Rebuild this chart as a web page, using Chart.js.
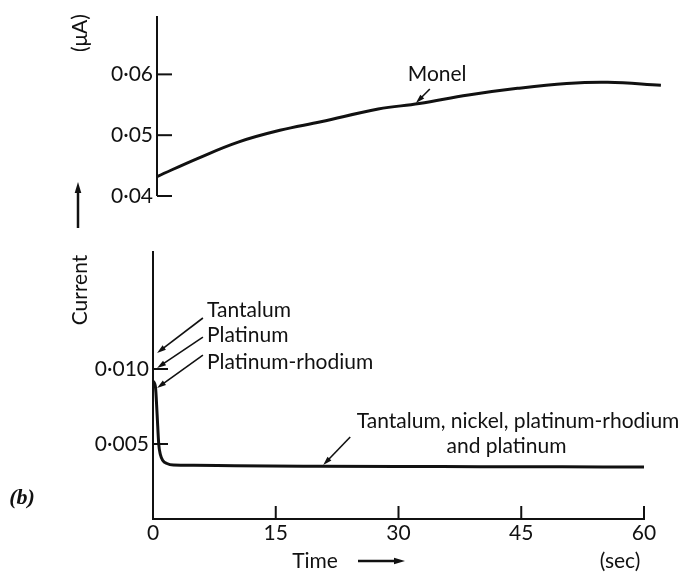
<!DOCTYPE html>
<html>
<head>
<meta charset="utf-8">
<script src="https://cdn.jsdelivr.net/npm/chart.js@4.4.1/dist/chart.umd.min.js"></script>
<style>
  body { margin: 0; background: #fff; }
  #wrap { position: relative; width: 696px; height: 576px; }
  #wrap canvas { position: absolute; left: 0; top: 0; }
</style>
</head>
<body>
<div id="wrap">
  <canvas id="monel" width="696" height="576"></canvas>
  <canvas id="others" width="696" height="576"></canvas>
</div>
<script>
// Upper panel: Monel, current (uA) against time (sec)
const monelTime = [0, 5, 10, 15, 20, 27, 32, 38, 44, 50, 55, 61.5];
const monelCurrent = [0.0432, 0.0462, 0.0489, 0.0508, 0.0522, 0.0543, 0.0552, 0.0566, 0.0577, 0.0585, 0.0587, 0.0582];
const monelTicks = [0.04, 0.05, 0.06];

// Lower panel: tantalum, nickel, platinum-rhodium and platinum
const otherTime = [0, 0.3, 0.5, 0.7, 0.9, 1.2, 1.7, 2.5, 5, 10, 20, 30, 40, 50, 60];
const otherCurrent = [0.0092, 0.0088, 0.0070, 0.0050, 0.0043, 0.0039, 0.0037, 0.0036, 0.00358, 0.00355, 0.00352, 0.0035, 0.00349, 0.00348, 0.00347];
const otherTicks = [0.005, 0.010];
const timeTicks = [0, 15, 30, 45, 60];

// labels and pointer arrows, in data units (sec, uA)
const monelNotes = [{ text: 'Monel', x: 30.6, y: 0.0600 }];
const monelArrows = [[33.3, 0.0576, 31.6, 0.0553]];
const otherNotes = [
  { text: 'Tantalum', x: 6.6, y: 0.01393 },
  { text: 'Platinum', x: 6.6, y: 0.01227 },
  { text: 'Platinum-rhodium', x: 6.6, y: 0.01047 },
  { text: 'Tantalum, nickel, platinum-rhodium', x: 24.9, y: 0.00653 },
  { text: 'and platinum', x: 43.2, y: 0.00487, align: 'center' }
];
const otherArrows = [
  [6.1, 0.0134, 0.5, 0.01107],
  [6.1, 0.01213, 0.5, 0.01007],
  [6.1, 0.01093, 0.5, 0.00873],
  [24.1, 0.00547, 20.8, 0.0036]
];

const ink = '#111';
const family = 'Lato, "Open Sans", sans-serif';
const font = '21px ' + family;
const dot = (v, n) => v.toFixed(n).replace('.', '\u00b7');

function line(ctx, x1, y1, x2, y2) {
  ctx.beginPath(); ctx.moveTo(x1, y1); ctx.lineTo(x2, y2); ctx.stroke();
}

function arrow(ctx, x1, y1, x2, y2, w, h) {
  const a = Math.atan2(y2 - y1, x2 - x1);
  const c = Math.cos(a), s = Math.sin(a);
  ctx.lineWidth = w;
  line(ctx, x1, y1, x2 - c * h * 0.7, y2 - s * h * 0.7);
  ctx.beginPath();
  ctx.moveTo(x2, y2);
  ctx.lineTo(x2 - h * c + h * 0.3 * s, y2 - h * s - h * 0.3 * c);
  ctx.lineTo(x2 - h * c - h * 0.3 * s, y2 - h * s + h * 0.3 * c);
  ctx.closePath(); ctx.fill();
}

// inward tick marks, notes and arrows
const marks = {
  id: 'marks',
  afterDraw(chart, args, opts) {
    const ctx = chart.ctx;
    const xs = chart.scales.x, ys = chart.scales.y;
    ctx.save();
    ctx.strokeStyle = ink; ctx.fillStyle = ink; ctx.lineWidth = 2;
    (opts.yTicks || []).forEach(v => {
      const py = ys.getPixelForValue(v);
      line(ctx, ys.right, py, ys.right + 15, py);
    });
    (opts.xTicks || []).forEach(v => {
      const px = xs.getPixelForValue(v);
      line(ctx, px, xs.top, px, xs.top - 13);
    });
    ctx.font = font; ctx.textBaseline = 'middle';
    (opts.notes || []).forEach(n => {
      ctx.textAlign = n.align || 'left';
      ctx.fillText(n.text, xs.getPixelForValue(n.x), ys.getPixelForValue(n.y));
    });
    (opts.arrows || []).forEach(a => arrow(ctx,
      xs.getPixelForValue(a[0]), ys.getPixelForValue(a[1]),
      xs.getPixelForValue(a[2]), ys.getPixelForValue(a[3]), 1.6, 9));
    ctx.restore();
  }
};

// axis titles and panel letter
const frame = {
  id: 'frame',
  afterDraw(chart) {
    const ctx = chart.ctx;
    ctx.save();
    ctx.fillStyle = ink; ctx.strokeStyle = ink;
    ctx.font = font; ctx.textAlign = 'center'; ctx.textBaseline = 'middle';
    ctx.save(); ctx.translate(80, 33); ctx.rotate(-Math.PI / 2); ctx.fillText('(\u03bcA)', 0, 0); ctx.restore();
    ctx.save(); ctx.translate(80, 290); ctx.rotate(-Math.PI / 2); ctx.fillText('Current', 0, 0); ctx.restore();
    arrow(ctx, 78, 228, 78, 182, 2.5, 11);
    ctx.fillText('Time', 315, 561);
    arrow(ctx, 358, 561, 405, 561, 2.5, 11);
    ctx.fillText('(sec)', 620, 561);
    ctx.font = 'italic bold 22px "Liberation Serif", serif';
    ctx.fillText('(b)', 22, 498);
    ctx.restore();
  }
};

const tickFont = { family: family, size: 21 };
const axisBorder = { display: true, color: ink, width: 2 };
const noGrid = { drawOnChartArea: false, drawTicks: false, color: 'rgba(0,0,0,0)' };

new Chart(document.getElementById('monel'), {
  type: 'line',
  data: {
    datasets: [{
      data: monelTime.map((t, i) => ({ x: t, y: monelCurrent[i] })),
      borderColor: ink, borderWidth: 3, pointRadius: 0, tension: 0.4, fill: false
    }]
  },
  options: {
    responsive: false, animation: false, devicePixelRatio: 1,
    layout: { padding: { left: 0, top: 13, right: 31, bottom: 380 } },
    plugins: {
      legend: { display: false }, tooltip: { enabled: false },
      marks: { yTicks: monelTicks, notes: monelNotes, arrows: monelArrows }
    },
    scales: {
      x: { type: 'linear', display: false, min: 0, max: 62 },
      y: {
        min: 0.04, max: 0.0695,
        afterFit: s => { s.width = 157; },
        afterBuildTicks: s => { s.ticks = monelTicks.map(v => ({ value: v })); },
        grid: noGrid, border: axisBorder,
        ticks: { padding: 4, color: ink, font: tickFont, callback: v => dot(v, 2) }
      }
    }
  },
  plugins: [marks]
});

new Chart(document.getElementById('others'), {
  type: 'line',
  data: {
    datasets: [{
      data: otherTime.map((t, i) => ({ x: t, y: otherCurrent[i] })),
      borderColor: ink, borderWidth: 3, pointRadius: 0, cubicInterpolationMode: 'monotone', fill: false
    }]
  },
  options: {
    responsive: false, animation: false, devicePixelRatio: 1,
    layout: { padding: { left: 0, top: 252, right: 52, bottom: 0 } },
    plugins: {
      legend: { display: false }, tooltip: { enabled: false },
      marks: { yTicks: otherTicks, xTicks: timeTicks.slice(1), notes: otherNotes, arrows: otherArrows }
    },
    scales: {
      x: {
        type: 'linear', min: 0, max: 60,
        afterFit: s => { s.height = 57; },
        afterBuildTicks: s => { s.ticks = timeTicks.map(v => ({ value: v })); },
        grid: noGrid, border: axisBorder,
        ticks: { padding: 2, color: ink, font: tickFont, maxRotation: 0 }
      },
      y: {
        min: 0, max: 0.0178,
        afterFit: s => { s.width = 153; },
        afterBuildTicks: s => { s.ticks = otherTicks.map(v => ({ value: v })); },
        grid: noGrid, border: axisBorder,
        ticks: { padding: 4, color: ink, font: tickFont, callback: v => dot(v, 3) }
      }
    }
  },
  plugins: [marks, frame]
});
</script>
</body>
</html>
